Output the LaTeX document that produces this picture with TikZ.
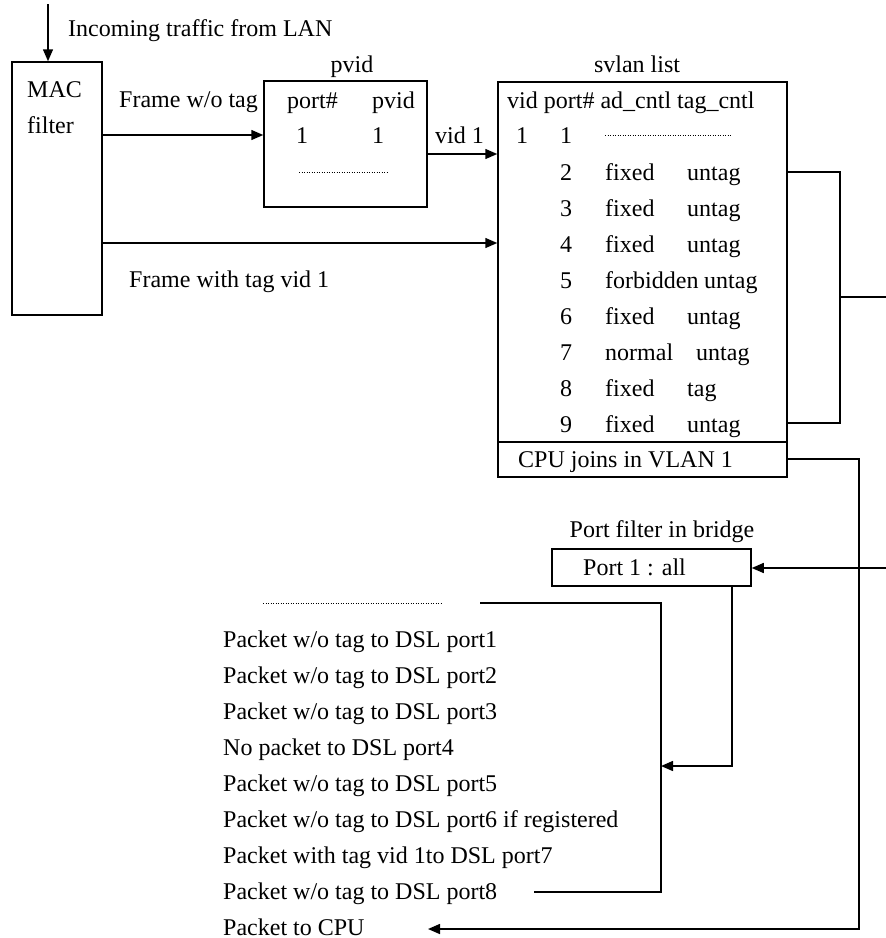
\documentclass[tikz,border=0pt]{standalone}
\usepackage{fontspec}
\setmainfont{Liberation Serif}
\usetikzlibrary{arrows.meta}
\begin{document}
\begin{tikzpicture}[x=1pt,y=-1pt,
  every node/.style={font=\fontsize{24}{28}\selectfont},
  txt/.style={inner sep=0pt, anchor=base west},
  ctxt/.style={inner sep=0pt, anchor=base},
  box/.style={draw, line width=1.5pt, inner sep=0pt},
  ln/.style={line width=1.5pt},
  arr/.style={line width=1.5pt, -{Triangle[length=12pt,width=10pt]}},
  dotline/.style={line width=1pt, dash pattern=on 1pt off 1.5pt}]
\useasboundingbox (0,0) rectangle (886,938);

% boxes
\node[box, minimum width=90pt, minimum height=253pt] (mac) at (57,188.5) {};
\node[box, minimum width=163pt, minimum height=126pt] (pvid) at (345.5,144) {};
\node[box, minimum width=289pt, minimum height=360pt] (svlan) at (642.5,262) {};
\node[box, minimum width=289pt, minimum height=35pt] (cpu) at (642.5,459.5) {};
\node[box, minimum width=199pt, minimum height=37pt] (port) at (651.5,567.5) {};

% top texts
\node[txt] (tin) at (68,36) {Incoming traffic from LAN};
\node[txt] (tmac) at (27,97) {MAC};
\node[txt] (tfil) at (27,133) {filter};
\node[txt] (tfwo) at (119,107) {Frame w/o tag};
\node[txt] (tfw) at (129,287) {Frame with tag vid 1};
\node[txt] (tvid) at (435,143) {vid 1};

% pvid table
\node[ctxt] (tpvidt) at (352,72) {pvid};
\node[txt] (tph1) at (287,108) {port\#};
\node[txt] (tph2) at (372,108) {pvid};
\node[ctxt] (tp1) at (302,143) {1};
\node[ctxt] (tp2) at (378,143) {1};
\draw[dotline] (299,172) -- (389,172);

% svlan table
\node[ctxt] (tsvt) at (637,72) {svlan list};
\node[txt] (tsh) at (507,108) {vid port\# ad\_cntl tag\_cntl};
\node[ctxt] (ts1a) at (522,143) {1};
\node[ctxt] (ts1b) at (566,143) {1};
\draw[dotline] (605,135) -- (732,135);
\foreach \n/\yy/\ad/\tx/\tg in {2/180/fixed/687/untag, 3/216/fixed/687/untag,
  4/252/fixed/687/untag, 5/288/forbidden/704/untag, 6/324/fixed/687/untag,
  7/360/normal/696/untag, 8/396/fixed/687/tag, 9/432/fixed/687/untag}{
  \node[ctxt] (sn\n) at (566,\yy) {\n};
  \node[txt] (sa\n) at (605,\yy) {\ad};
  \node[txt] (st\n) at (\tx,\yy) {\tg};
}
\node[txt] (tcpu) at (518,467) {CPU joins in VLAN 1};

% port filter
\node[ctxt] (tpf) at (662,537) {Port filter in bridge};
\node[txt] (tport) at (583,575) {Port 1 : all};

% result list
\draw[dotline] (263,603) -- (442,603);
\foreach \i/\yy/\t in {1/647/{Packet w/o tag to DSL port1},
  2/683/{Packet w/o tag to DSL port2},
  3/719/{Packet w/o tag to DSL port3},
  4/755/{No packet to DSL port4},
  5/791/{Packet w/o tag to DSL port5},
  6/827/{Packet w/o tag to DSL port6 if registered},
  7/863/{Packet with tag vid 1to DSL port7},
  8/899/{Packet w/o tag to DSL port8},
  9/935/{Packet to CPU}}{
  \node[txt] (r\i) at (223,\yy) {\t};
}

% connectors
\coordinate (inc) at (48,4);
\draw[arr] (inc) -- (inc |- mac.north);
\draw[arr] (mac.east |- 0,135) -- (pvid.west |- 0,135);
\draw[arr] (pvid.east |- 0,154) -- (svlan.west |- 0,154);
\draw[arr] (mac.east |- 0,243) -- (svlan.west |- 0,243);

\coordinate (brk) at (840,297);
\coordinate (out1) at (886,297);
\draw[ln] (svlan.east |- 0,172) -| (840,423) -- (svlan.east |- 0,423);
\draw[ln] (brk) -- (out1);

\coordinate (cputip) at (428,929);
\draw[arr] (cpu.east |- 0,459) -| (859,929) -- (cputip);

\coordinate (pin) at (886,568);
\draw[arr] (pin) -- (port.east |- pin);
\draw[arr] (port.south -| 732,0) |- (661,766);

\coordinate (bt) at (480,603);
\coordinate (bb) at (534,892);
\draw[ln] (bt) -| (661,892) -- (bb);
\end{tikzpicture}
\end{document}
